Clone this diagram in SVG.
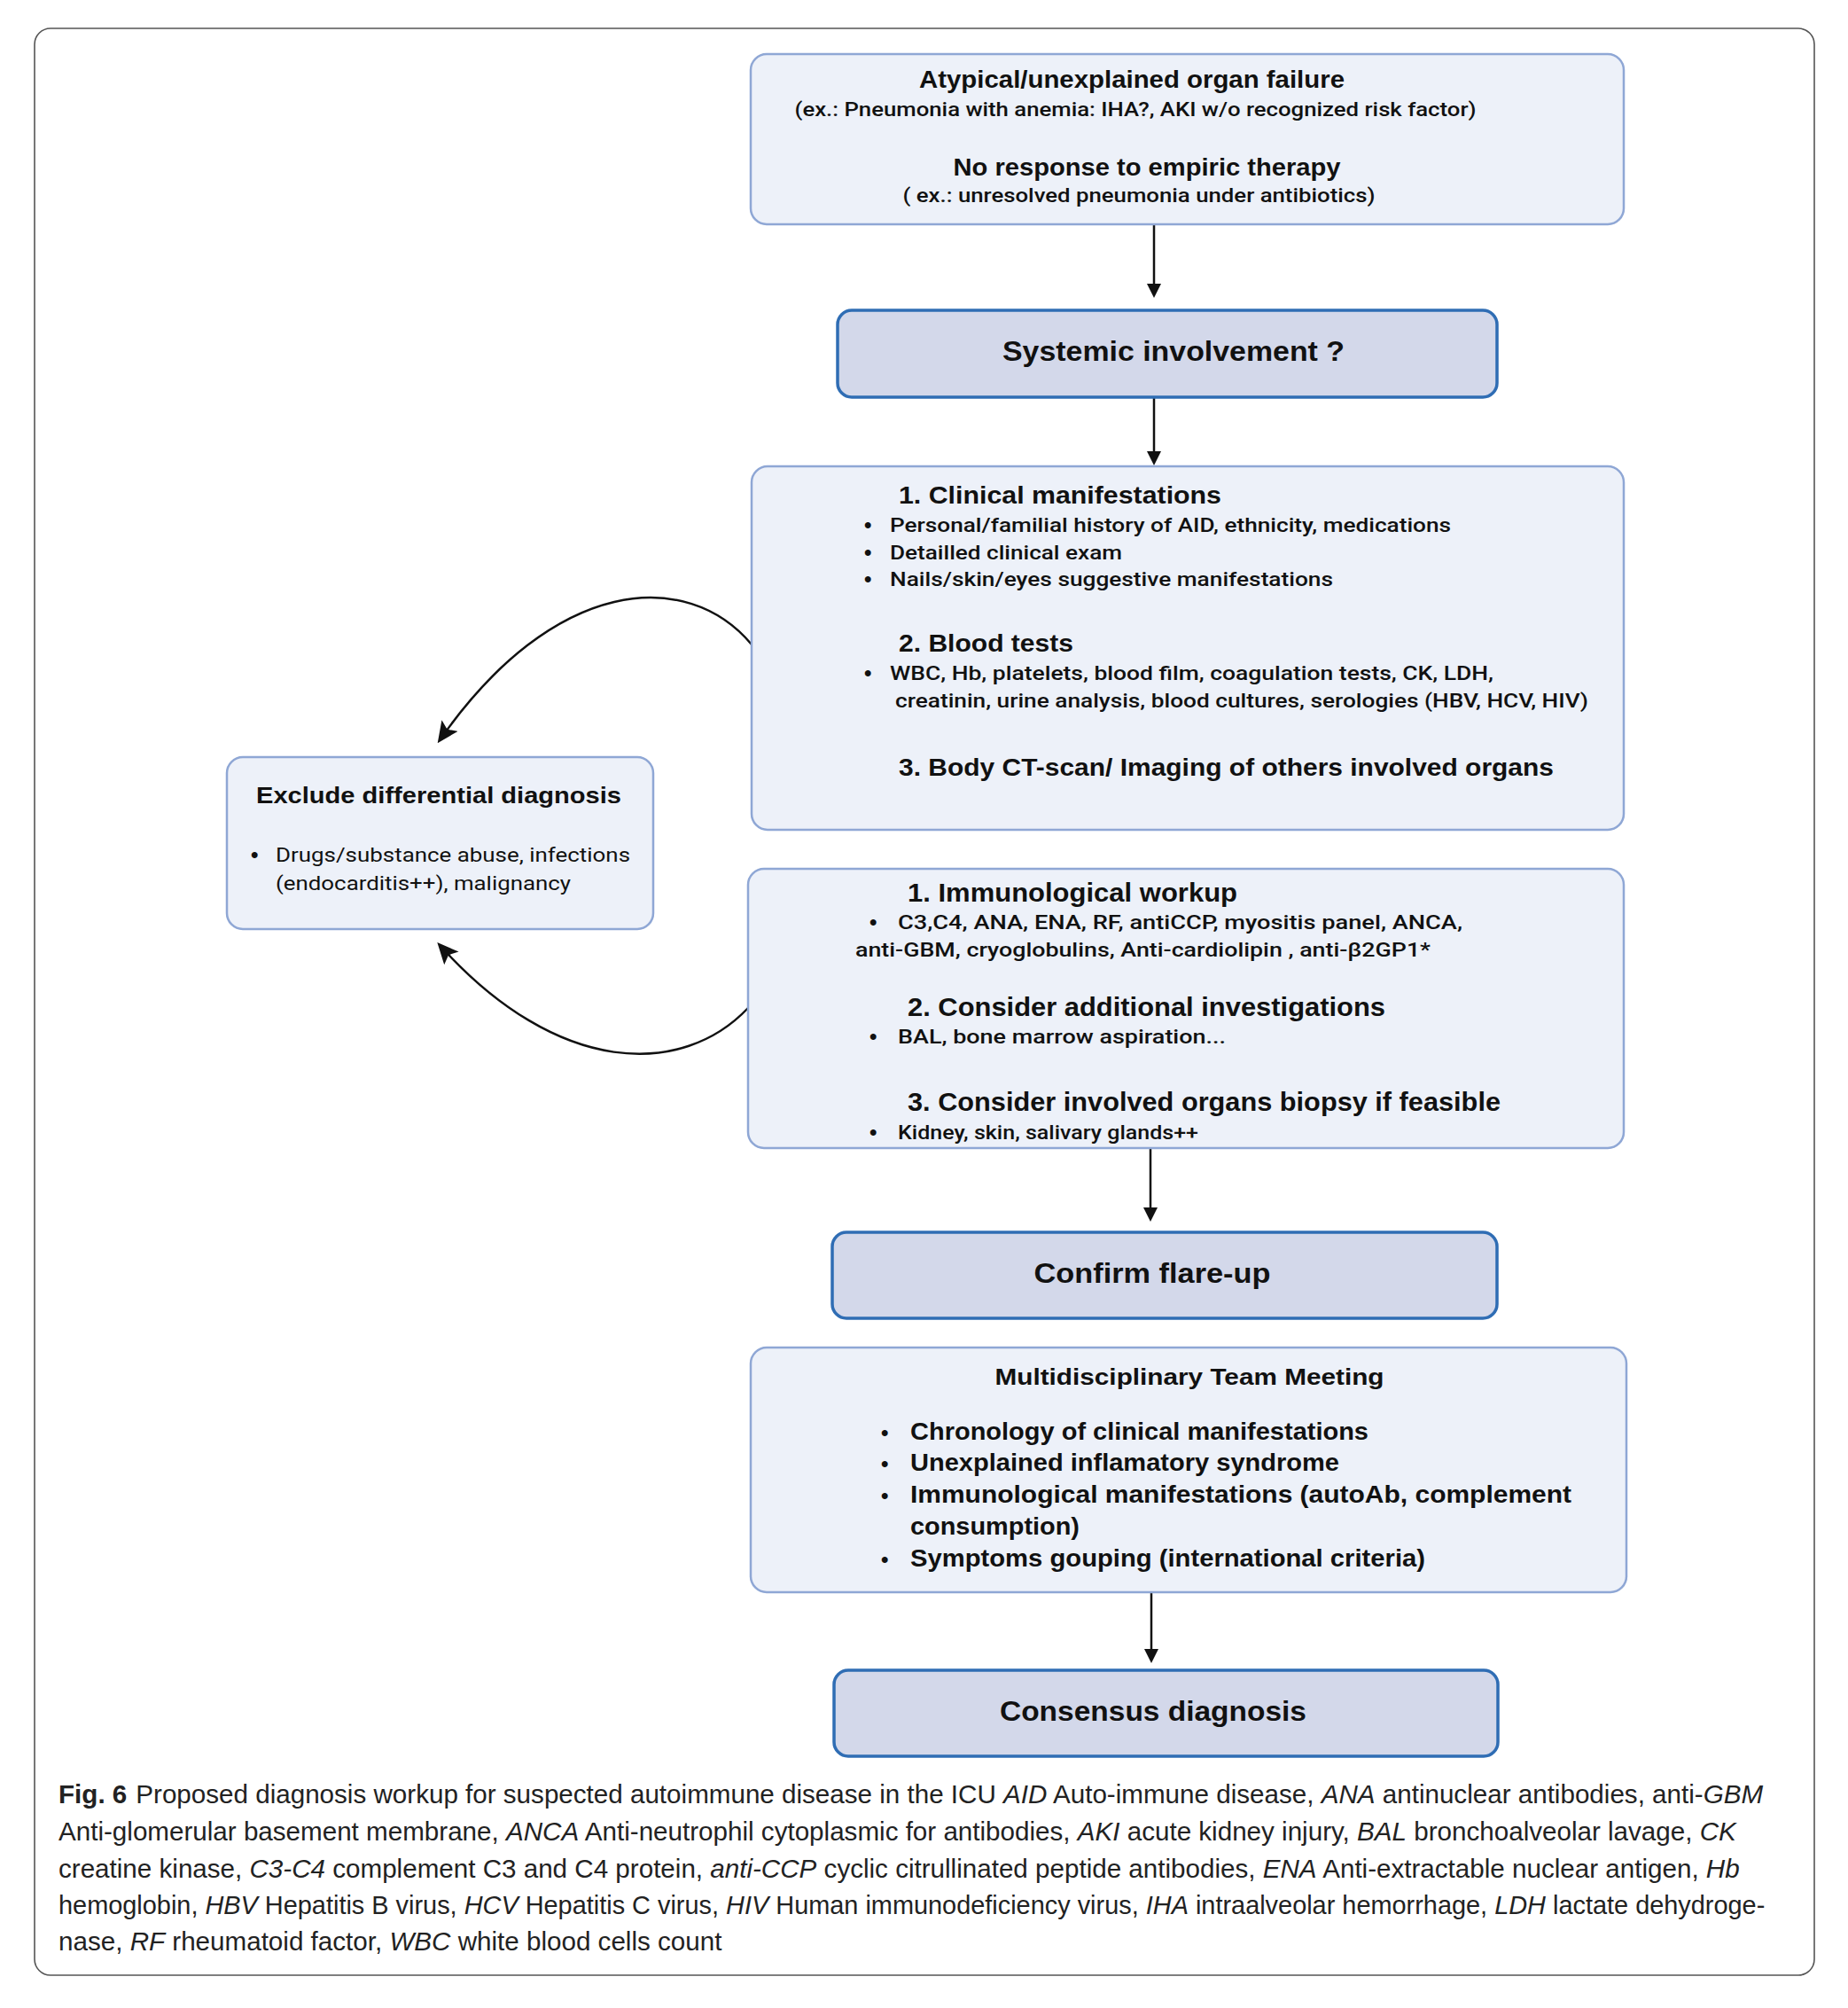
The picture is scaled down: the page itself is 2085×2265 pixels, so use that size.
<svg xmlns="http://www.w3.org/2000/svg" width="2085" height="2265" viewBox="0 0 2085 2265">
<defs>
<marker id="ahc" markerWidth="24" markerHeight="22" refX="20" refY="11" orient="auto" markerUnits="userSpaceOnUse" viewBox="0 0 24 22">
<path d="M0,0 L24,11 L0,22 L5,11 z" fill="#111"/>
</marker>
<style>
.box{fill:#edf1f9;stroke:#8fa7d5;stroke-width:2.5}
.hbox{fill:#d3d8ea;stroke:#2f6db4;stroke-width:3.5}
.frame{fill:#fff;stroke:#555;stroke-width:1.6}
text{font-family:"Liberation Sans",Arial,sans-serif;fill:#111}
.t{font-weight:bold}
.b{font-family:Roboto,"Liberation Sans",sans-serif;font-weight:500;font-size:22px}
.r{font-weight:normal}
.bul{font-size:24px;font-weight:bold}
.cap{font-size:29.6px;fill:#222}
.i{font-style:italic}
.con{stroke:#111;stroke-width:2.5;fill:none}
.head{fill:#111}
</style>
</defs>
<rect class="frame" x="39" y="32" width="2008" height="2196" rx="18"/>

<g id="connectors">
<path class="con" d="M1302,253 V322"/>
<path class="head" d="M1294,320 L1310,320 L1302,336 z"/>
<path class="con" d="M1302,448 V510"/>
<path class="head" d="M1294,509 L1310,509 L1302,525 z"/>
<path class="con" d="M1298,1295 V1364"/>
<path class="head" d="M1290,1362 L1306,1362 L1298,1378 z"/>
<path class="con" d="M1299,1796 V1862"/>
<path class="head" d="M1291,1860 L1307,1860 L1299,1876 z"/>
<path class="con" d="M848,727 C775,640 625,650 496,835" marker-end="url(#ahc)"/>
<path class="con" d="M844,1137 C770,1215 630,1215 496,1066" marker-end="url(#ahc)"/>
</g>

<g id="node-organ-failure">
<rect class="box" x="847" y="61" width="985" height="192" rx="18"/>
<text class="t" x="1277" y="99" font-size="27" text-anchor="middle" textLength="480" lengthAdjust="spacingAndGlyphs">Atypical/unexplained organ failure</text>
<text class="b" x="1281" y="131" text-anchor="middle" textLength="769" lengthAdjust="spacingAndGlyphs">(ex.: Pneumonia with anemia: IHA?, AKI w/o recognized risk factor)</text>
<text class="t" x="1294" y="198" font-size="27" text-anchor="middle" textLength="437" lengthAdjust="spacingAndGlyphs">No response to empiric therapy</text>
<text class="b" x="1285" y="228" text-anchor="middle" textLength="533" lengthAdjust="spacingAndGlyphs">( ex.: unresolved pneumonia under antibiotics)</text>
</g>

<g id="node-systemic">
<rect class="hbox" x="945" y="350" width="744" height="98" rx="16"/>
<text class="t" x="1324" y="407" font-size="31" text-anchor="middle" textLength="386" lengthAdjust="spacingAndGlyphs">Systemic involvement ?</text>
</g>

<g id="node-clinical">
<rect class="box" x="848" y="526" width="984" height="410" rx="18"/>
<text class="t" x="1014" y="568" font-size="28" textLength="364" lengthAdjust="spacingAndGlyphs">1. Clinical manifestations</text>
<text class="bul" x="975" y="600">•</text>
<text class="b" x="1004" y="600" textLength="633" lengthAdjust="spacingAndGlyphs">Personal/familial history of AID, ethnicity, medications</text>
<text class="bul" x="975" y="631">•</text>
<text class="b" x="1004" y="631" textLength="262" lengthAdjust="spacingAndGlyphs">Detailled clinical exam</text>
<text class="bul" x="975" y="661">•</text>
<text class="b" x="1004" y="661" textLength="500" lengthAdjust="spacingAndGlyphs">Nails/skin/eyes suggestive manifestations</text>
<text class="t" x="1014" y="735" font-size="28" textLength="197" lengthAdjust="spacingAndGlyphs">2. Blood tests</text>
<text class="bul" x="975" y="767">•</text>
<text class="b" x="1004" y="767" textLength="681" lengthAdjust="spacingAndGlyphs">WBC, Hb, platelets,  blood film, coagulation tests, CK, LDH,</text>
<text class="b" x="1010" y="798" textLength="782" lengthAdjust="spacingAndGlyphs">creatinin, urine analysis, blood cultures, serologies (HBV, HCV, HIV)</text>
<text class="t" x="1014" y="875" font-size="28" textLength="739" lengthAdjust="spacingAndGlyphs">3. Body CT-scan/ Imaging of others involved organs</text>
</g>

<g id="node-exclude">
<rect class="box" x="256" y="854" width="481" height="194" rx="18"/>
<text class="t" x="495" y="906" font-size="26" text-anchor="middle" textLength="412" lengthAdjust="spacingAndGlyphs">Exclude differential diagnosis</text>
<text class="bul" x="283" y="972">•</text>
<text class="b r" x="311" y="972" textLength="400" lengthAdjust="spacingAndGlyphs">Drugs/substance abuse, infections</text>
<text class="b r" x="311" y="1004" textLength="333" lengthAdjust="spacingAndGlyphs">(endocarditis++), malignancy</text>
</g>

<g id="node-immuno">
<rect class="box" x="844" y="980" width="988" height="315" rx="18"/>
<text class="t" x="1024" y="1017" font-size="29" textLength="372" lengthAdjust="spacingAndGlyphs">1. Immunological workup</text>
<text class="bul" x="981" y="1048">•</text>
<text class="b" x="1013" y="1048" textLength="637" lengthAdjust="spacingAndGlyphs">C3,C4, ANA, ENA, RF, antiCCP, myositis panel, ANCA,</text>
<text class="b" x="965" y="1079" textLength="649" lengthAdjust="spacingAndGlyphs">anti-GBM, cryoglobulins, Anti-cardiolipin , anti-β2GP1*</text>
<text class="t" x="1024" y="1146" font-size="29" textLength="539" lengthAdjust="spacingAndGlyphs">2. Consider additional investigations</text>
<text class="bul" x="981" y="1177">•</text>
<text class="b" x="1013" y="1177" textLength="370" lengthAdjust="spacingAndGlyphs">BAL, bone marrow aspiration...</text>
<text class="t" x="1024" y="1253" font-size="29" textLength="669" lengthAdjust="spacingAndGlyphs">3. Consider involved organs biopsy if feasible</text>
<text class="bul" x="981" y="1285">•</text>
<text class="b" x="1013" y="1285" textLength="339" lengthAdjust="spacingAndGlyphs">Kidney, skin, salivary glands++</text>
</g>

<g id="node-flare">
<rect class="hbox" x="939" y="1390" width="750" height="97" rx="16"/>
<text class="t" x="1300" y="1447" font-size="31" text-anchor="middle" textLength="267" lengthAdjust="spacingAndGlyphs">Confirm flare-up</text>
</g>

<g id="node-mdt">
<rect class="box" x="847" y="1520" width="988" height="276" rx="18"/>
<text class="t" x="1342" y="1562" font-size="25" text-anchor="middle" textLength="439" lengthAdjust="spacingAndGlyphs">Multidisciplinary Team Meeting</text>
<text class="bul" x="994" y="1624">•</text>
<text class="t" x="1027" y="1624" font-size="27" textLength="517" lengthAdjust="spacingAndGlyphs">Chronology of clinical manifestations</text>
<text class="bul" x="994" y="1659">•</text>
<text class="t" x="1027" y="1659" font-size="27" textLength="484" lengthAdjust="spacingAndGlyphs">Unexplained inflamatory syndrome</text>
<text class="bul" x="994" y="1695">•</text>
<text class="t" x="1027" y="1695" font-size="27" textLength="746" lengthAdjust="spacingAndGlyphs">Immunological  manifestations (autoAb,  complement</text>
<text class="t" x="1027" y="1731" font-size="27" textLength="191" lengthAdjust="spacingAndGlyphs">consumption)</text>
<text class="bul" x="994" y="1767">•</text>
<text class="t" x="1027" y="1767" font-size="27" textLength="581" lengthAdjust="spacingAndGlyphs">Symptoms gouping (international criteria)</text>
</g>

<g id="node-consensus">
<rect class="hbox" x="941" y="1884" width="749" height="97" rx="16"/>
<text class="t" x="1301" y="1941" font-size="31" text-anchor="middle" textLength="346" lengthAdjust="spacingAndGlyphs">Consensus diagnosis</text>
</g>

<g id="caption">
<text class="cap" x="66" y="2034"><tspan font-weight="bold">Fig. 6</tspan><tspan dx="10">Proposed diagnosis workup for suspected autoimmune disease in the ICU </tspan><tspan class="i">AID</tspan> Auto-immune disease, <tspan class="i">ANA</tspan> antinuclear antibodies, anti-<tspan class="i">GBM</tspan></text>
<text class="cap" x="66" y="2076">Anti-glomerular basement membrane, <tspan class="i">ANCA</tspan> Anti-neutrophil cytoplasmic for antibodies, <tspan class="i">AKI</tspan> acute kidney injury, <tspan class="i">BAL</tspan> bronchoalveolar lavage, <tspan class="i">CK</tspan></text>
<text class="cap" x="66" y="2118">creatine kinase, <tspan class="i">C3-C4</tspan> complement C3 and C4 protein, <tspan class="i">anti-CCP</tspan> cyclic citrullinated peptide antibodies, <tspan class="i">ENA</tspan> Anti-extractable nuclear antigen, <tspan class="i">Hb</tspan></text>
<text class="cap" x="66" y="2159" style="font-size:28.9px">hemoglobin, <tspan class="i">HBV</tspan> Hepatitis B virus, <tspan class="i">HCV</tspan> Hepatitis C virus, <tspan class="i">HIV</tspan> Human immunodeficiency virus, <tspan class="i">IHA</tspan> intraalveolar hemorrhage, <tspan class="i">LDH</tspan> lactate dehydroge-</text>
<text class="cap" x="66" y="2200">nase, <tspan class="i">RF</tspan> rheumatoid factor, <tspan class="i">WBC</tspan> white blood cells count</text>
</g>
</svg>
